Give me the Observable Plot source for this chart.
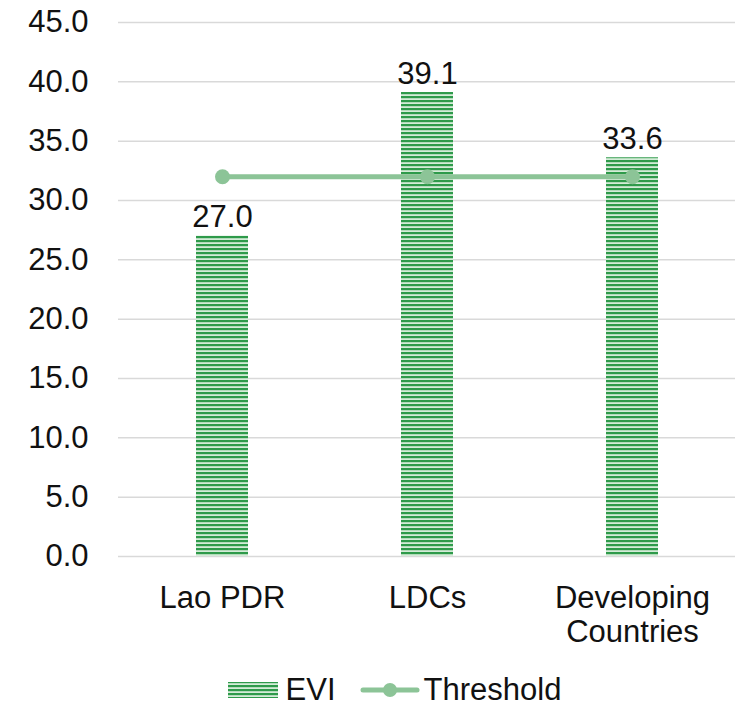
<!DOCTYPE html>
<html>
<head>
<meta charset="utf-8">
<script src="https://cdn.jsdelivr.net/npm/d3@7"></script>
<script src="https://cdn.jsdelivr.net/npm/@observablehq/plot@0.6"></script>
<style>
  body { margin: 0; background: #fff; font-family: "Liberation Sans", Arial, sans-serif; }
  #legend { display: flex; justify-content: center; align-items: center; height: 47px; padding-top: 12px; box-sizing: border-box; font-size: 31px; color: #111; padding-left: 44px; }
  .item { display: flex; align-items: center; }
</style>
</head>
<body>
<div id="chart"></div>
<div id="legend"></div>
<script>
const categories = ["Lao PDR", "LDCs", "Developing\nCountries"];
const evi = [27.0, 39.1, 33.6];
const threshold = [32, 32, 32];
const yTicks = [0, 5, 10, 15, 20, 25, 30, 35, 40, 45];

const bars = categories.map((c, i) => ({cat: c, v: evi[i]}));
const thr = categories.map((c, i) => ({cat: c, v: threshold[i]}));

const dark = "#2e9a4a", light = "#d4ecd8", lineCol = "#8cc497";
const FS = 31;

const plot = Plot.plot({
  width: 745, height: 660,
  marginTop: 22, marginBottom: 104, marginLeft: 118, marginRight: 10,
  style: {fontFamily: "Liberation Sans, Arial, sans-serif", fontSize: FS + "px", color: "#111", background: "#fff"},
  x: {domain: categories, paddingInner: 0.747, paddingOuter: 0.3735, label: null},
  y: {domain: [0, 45], ticks: yTicks, label: null},
  marks: [
    Plot.gridY(yTicks.filter(d => d > 0), {stroke: "#d9d9d9", strokeOpacity: 1, strokeWidth: 1.5}),
    Plot.ruleY([0], {stroke: "#d9d9d9", strokeWidth: 1.5}),
    Plot.axisY({ticks: yTicks, tickFormat: d => d.toFixed(1), tickSize: 0, tickPadding: 30, fontSize: FS, label: null}),
    Plot.axisX({tickSize: 0, tickPadding: 27, fontSize: FS, lineHeight: 1.1, label: null}),
    Plot.barY(bars, {x: "cat", y: "v", fill: "url(#evi-stripes)"}),
    Plot.text(bars, {x: "cat", y: "v", text: d => d.v.toFixed(1), lineAnchor: "bottom", dy: -9, fontSize: FS, fill: "#111"}),
    Plot.line(thr, {x: "cat", y: "v", stroke: lineCol, strokeWidth: 5}),
    Plot.dot(thr, {x: "cat", y: "v", r: 7.5, fill: lineCol, stroke: "none"})
  ]
});

const svg = d3.select(plot);
const defs = svg.insert("defs", ":first-child");
const pat = defs.append("pattern").attr("id", "evi-stripes").attr("patternUnits", "userSpaceOnUse")
  .attr("width", 8).attr("height", 4);
pat.append("rect").attr("width", 8).attr("height", 4).attr("fill", light);
pat.append("rect").attr("width", 8).attr("height", 2.2).attr("fill", dark);

document.getElementById("chart").appendChild(plot);

const legend = d3.select("#legend");
const i1 = legend.append("div").attr("class", "item");
const s1 = i1.append("svg").attr("width", 50).attr("height", 18).style("margin-right", "8px");
const d1 = s1.append("defs").append("pattern").attr("id", "leg-stripes").attr("patternUnits", "userSpaceOnUse").attr("width", 8).attr("height", 4);
d1.append("rect").attr("width", 8).attr("height", 4).attr("fill", light);
d1.append("rect").attr("width", 8).attr("height", 2.2).attr("fill", dark);
s1.append("rect").attr("y", 1).attr("width", 50).attr("height", 16).attr("fill", "url(#leg-stripes)");
i1.append("span").text("EVI");
const i2 = legend.append("div").attr("class", "item").style("margin-left", "24px");
const s2 = i2.append("svg").attr("width", 60).attr("height", 18).style("margin-right", "4px");
s2.append("line").attr("x1", 3).attr("x2", 57).attr("y1", 9).attr("y2", 9).attr("stroke", lineCol).attr("stroke-width", 5).attr("stroke-linecap", "round");
s2.append("circle").attr("cx", 30).attr("cy", 9).attr("r", 7).attr("fill", lineCol);
i2.append("span").text("Threshold");
</script>
</body>
</html>
